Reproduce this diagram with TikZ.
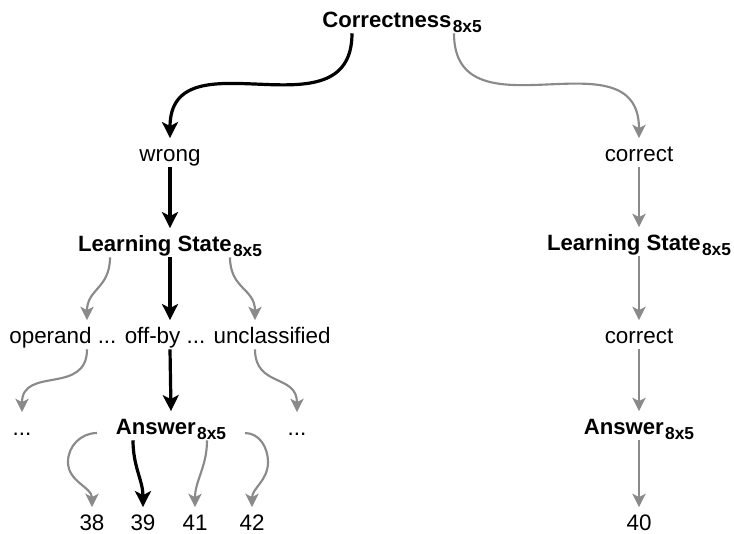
\documentclass[tikz,border=0pt]{standalone}
\usepackage{fontspec}
\setmainfont{Liberation Sans}
\usepackage{xcolor}
\usetikzlibrary{arrows.meta,calc}
\definecolor{pathgray}{RGB}{138,138,138}
\newcommand{\ofsize}{\kern1pt\raisebox{-4pt}{\fontsize{13}{13}\selectfont\bfseries 8x5}}
\tikzset{
    every node/.style={inner sep=0pt, text height=17pt, text depth=4.5pt, anchor=base}, % same box for every label
    var/.style={font=\fontsize{16.6}{19}\selectfont\bfseries}, % names of the variables
    val/.style={font=\fontsize{16.8}{19}\selectfont}, % values they take
    taken/.style={draw=black, line width=2.4pt, -{Stealth[length=12pt,width=12pt,inset=3pt]}}, % the path followed
    nottaken/.style={draw=pathgray, line width=1.6pt, -{Stealth[length=10pt,width=10pt,inset=2.5pt]}}, % the other branches
}

\begin{document}
\begin{tikzpicture}[x=0.75pt, y=0.75pt]
        \useasboundingbox (0,0) rectangle (734,-533);

        \node[var] (corr) at (402,-27) {Correctness\ofsize};
        \node[val] (wrong) at (170,-161) {wrong};
        \node[val] (right) at (639,-161) {correct};
        \node[var] (stateL) at (170,-251) {Learning State\ofsize};
        \node[var] (stateR) at (639,-250) {Learning State\ofsize};
        \node[val] (cats) at (170,-343) {operand ... off-by ... unclassified};
        \node[val] (right2) at (639,-343) {correct};
        \node[val] (dotsL) at (22,-435) {...};
        \node[var] (ansL) at (171,-434) {Answer\ofsize};
        \node[val] (dotsR) at (297,-435) {...};
        \node[var] (ansR) at (639,-434) {Answer\ofsize};
        \node[val] (n38) at (92,-530) {38};
        \node[val] (n39) at (143,-530) {39};
        \node[val] (n41) at (195,-530) {41};
        \node[val] (n42) at (252,-530) {42};
        \node[val] (n40) at (639,-530) {40};

        \draw[taken] ($(corr.south)+(-50,0)$) to[out=-90, in=90, looseness=1.3] (wrong.north);
        \draw[nottaken] ($(corr.south)+(52,0)$) to[out=-90, in=90, looseness=1.3] (right.north);
        \draw[taken] (wrong.south) -- (stateL.north);
        \draw[nottaken] (right.south) -- (stateR.north);

        \draw[nottaken] ($(stateL.south)+(-60,0)$) to[out=-90, in=90, looseness=1.2] ($(cats.north)+(-83,0)$);
        \draw[taken] (stateL.south) -- (cats.north);
        \draw[nottaken] ($(stateL.south)+(60,0)$) to[out=-90, in=90, looseness=1.2] ($(cats.north)+(85,0)$);
        \draw[nottaken] (stateR.south) -- (right2.north);

        \draw[nottaken] ($(cats.south)+(-83,0)$) to[out=-90, in=90, looseness=1.3] (dotsL.north);
        \draw[taken] (cats.south) -- (ansL.north);
        \draw[nottaken] ($(cats.south)+(85,0)$) to[out=-90, in=90, looseness=1.3] (dotsR.north);
        \draw[nottaken] (right2.south) -- (ansR.north);

        \draw[nottaken] ($(ansL.base)+(-74,1)$) to[out=180, in=90] ++(-29,-29) to[out=-90, in=90] (n38.north);
        \draw[taken] ($(ansL.south)+(-38,0)$) to[out=-90, in=90] (n39.north);
        \draw[nottaken] ($(ansL.south)+(36,0)$) to[out=-90, in=90] (n41.north);
        \draw[nottaken] ($(ansL.base)+(74,1)$) to[out=0, in=90] ++(23,-29) to[out=-90, in=90] (n42.north);
        \draw[nottaken] (ansR.south) -- (n40.north);

    \end{tikzpicture}
\end{document}
